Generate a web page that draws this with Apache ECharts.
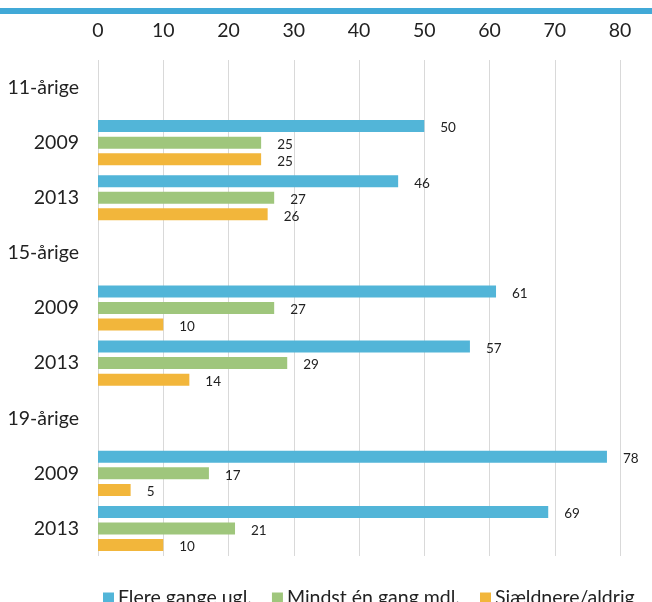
<!DOCTYPE html>
<html><head><meta charset="utf-8">
<script src="https://cdn.jsdelivr.net/npm/echarts@6/dist/echarts.min.js"></script>
<style>html,body{margin:0;padding:0;background:#fff}#c{width:652px;height:602px}</style>
</head><body><div id="c"></div>
<script>
var categories = ['11-årige','2009','2013','15-årige','2009','2013','19-årige','2009','2013'];
var seriesNames = ['Flere gange ugl.','Mindst én gang mdl.','Sjældnere/aldrig'];
var flere = [null,50,46,null,61,57,null,78,69];
var mindst = [null,25,27,null,27,29,null,17,21];
var sjaeld = [null,25,26,null,10,14,null,5,10];
var xTicks = [0,10,20,30,40,50,60,70,80];
var colors = ['#52b5d8','#9fc67c','#f2b63b'];
var FONT = 'Lato';
var chart = echarts.init(document.getElementById('c'));
function mk(name, data, color){
  return {name:name,type:'bar',data:data,barWidth:12,barGap:'38%',barCategoryGap:'20%',
    itemStyle:{color:color},
    label:{show:true,position:'right',distance:16,offset:[0,2],color:'#222',fontSize:13.5,fontFamily:FONT},
    silent:true};
}
chart.setOption({
  animation:false,
  color:colors,
  graphic:[{type:'rect',shape:{x:0,y:8,width:652,height:6},style:{fill:'#41a9d7'}}],
  grid:{left:98,right:32,top:60,bottom:46,containLabel:false},
  xAxis:{type:'value',position:'top',min:xTicks[0],max:xTicks[xTicks.length-1],interval:10,
    axisLine:{show:false},axisTick:{show:false},
    axisLabel:{margin:19,fontSize:19.5,color:'#222',fontFamily:FONT},
    splitLine:{lineStyle:{color:'#d9d9d9'}}},
  yAxis:{type:'category',data:categories,inverse:true,
    axisLine:{show:false},axisTick:{show:false},
    axisLabel:{margin:19,fontSize:19.5,color:'#222',fontFamily:FONT}},
  legend:{left:98,top:583,itemWidth:11,itemHeight:11,itemGap:20,icon:'rect',
    textStyle:{fontSize:19.5,color:'#222',fontFamily:FONT,padding:[0,0,0,-1]}},
  series:[mk(seriesNames[0],flere,colors[0]),mk(seriesNames[1],mindst,colors[1]),mk(seriesNames[2],sjaeld,colors[2])]
});
</script></body></html>
